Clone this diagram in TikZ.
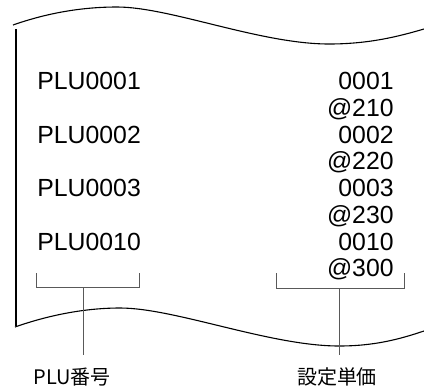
\documentclass[tikz,border=0pt]{standalone}
\usepackage{fontspec}
\setmainfont{Liberation Sans}
\newfontfamily\jpfont{Noto Sans CJK JP}
\usetikzlibrary{positioning}

\begin{document}
\begin{tikzpicture}[
    x=0.5pt, y=-0.5pt,
    entry/.style={inner sep=0pt, font=\fontsize{12.4}{14}\selectfont},
    caption/.style={inner sep=0pt, font=\jpfont\fontsize{10}{12}\selectfont},
    wave/.style={line width=0.55pt, black},
    bracket/.style={line width=0.5pt, black!65},
]
\useasboundingbox (0,0) rectangle (424,387);
% Papier
\draw[wave] (13,25) .. controls (50,12) and (85,7) .. (117,7) .. controls (170,7) and (260,44) .. (329,44) .. controls (370,44) and (400,36) .. (424,29);
\draw[wave] (16,29) -- (16,326);
\draw[wave] (15,327) .. controls (52,314) and (88,308) .. (120,308) .. controls (175,308) and (270,346) .. (339,346) .. controls (375,346) and (400,339) .. (424,331);
% Eintraege
\foreach \code/\price [count=\i] in {0001/210, 0002/220, 0003/230, 0010/300} {
    \node[entry, anchor=base west] (plu\i) at (37, 36+53.5*\i) {PLU\code};
    \node[entry, anchor=base east] (code\i) at (394, 36+53.5*\i) {\code};
    \node[entry, anchor=base east] (price\i) at (394, 62.5+53.5*\i) {@\price};
}
% Klammern
\coordinate (lstem) at (83,287);
\coordinate (lstemEnd) at (83,355);
\coordinate (rstem) at (339,288);
\coordinate (rstemEnd) at (339,355);
\draw[bracket] (36,273) -- (36,287) -- (139,287) -- (139,273);
\draw[bracket] (276,273) -- (276,288) -- (404,288) -- (404,273);
\node[caption, anchor=base west] (pluLabel) at (33,384) {PLU番号};
\node[caption, anchor=base] (priceLabel) at (337,384) {設定単価};
\draw[bracket] (lstem) -- (lstemEnd);
\draw[bracket] (rstem) -- (rstemEnd);
\end{tikzpicture}
\end{document}
